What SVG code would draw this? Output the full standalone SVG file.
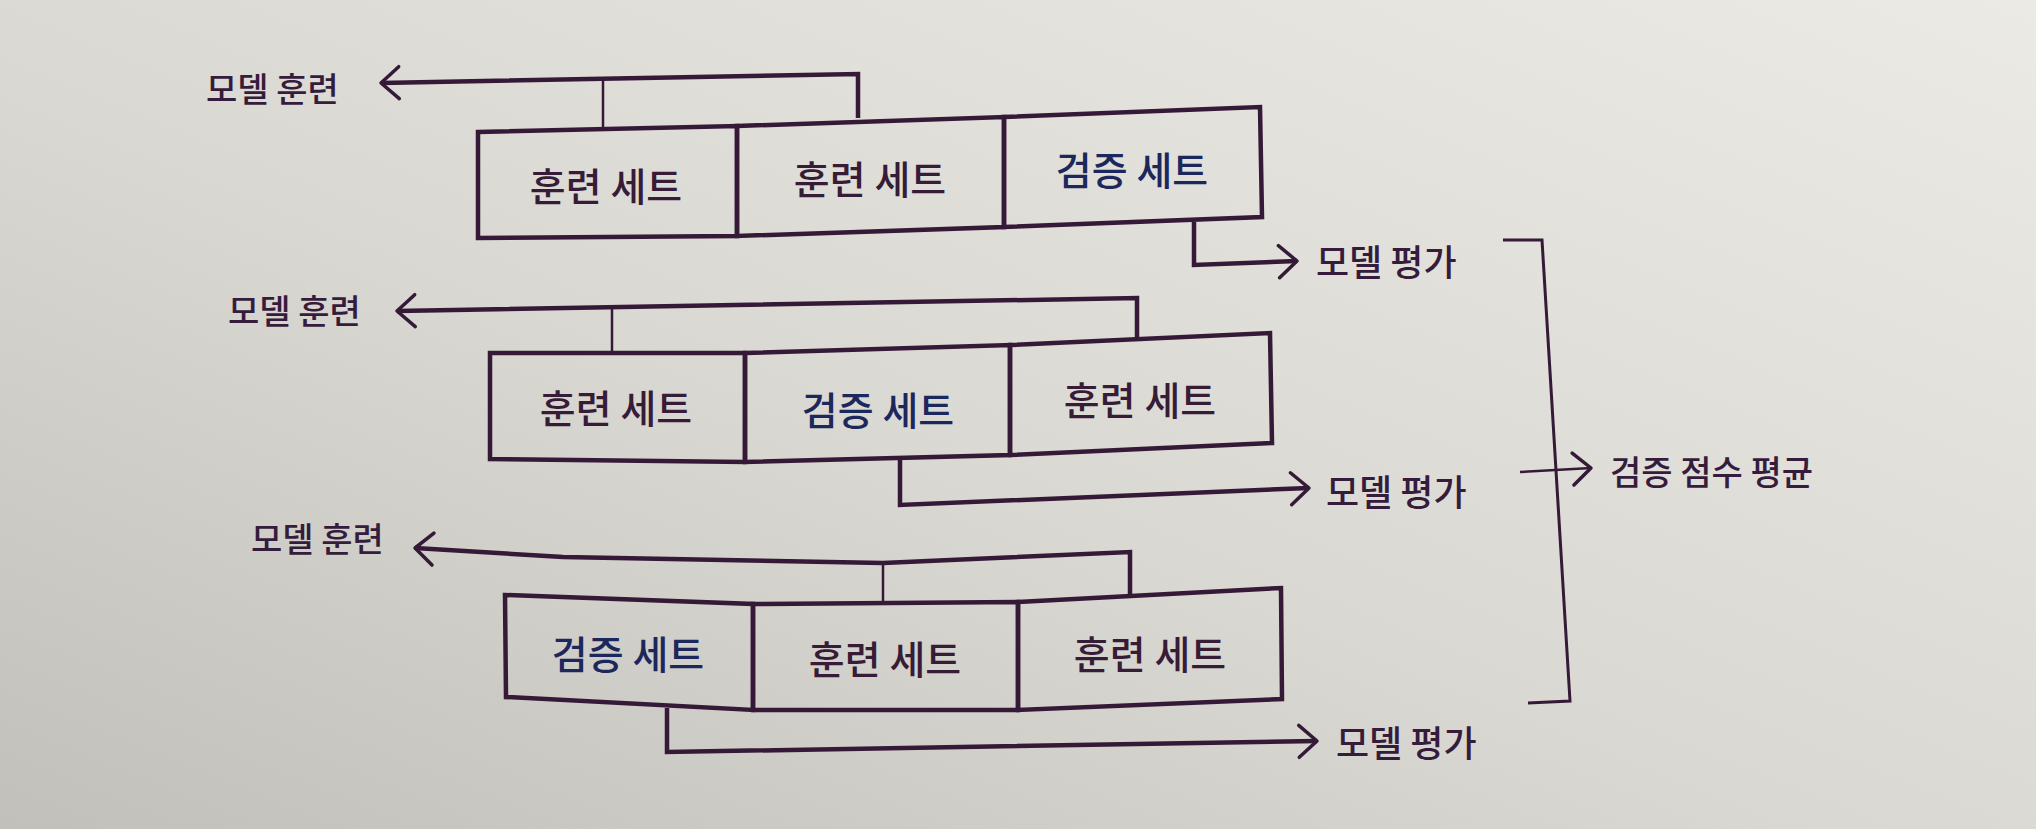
<svg xmlns="http://www.w3.org/2000/svg" width="2036" height="829" viewBox="0 0 2036 829">
<defs>
<linearGradient id="bg" x1="0" y1="1" x2="1" y2="0">
<stop offset="0" stop-color="#c2c0ba"/>
<stop offset="0.45" stop-color="#dad8d2"/>
<stop offset="1" stop-color="#ebeae5"/>
</linearGradient>
<marker id="chev" viewBox="-22 -20 26 40" refX="0" refY="0" markerWidth="26" markerHeight="40" markerUnits="userSpaceOnUse" orient="auto" overflow="visible">
<path d="M-18,-16 L0,0 L-18,16" fill="none" stroke="#351a38" stroke-width="3.5" stroke-linecap="round" stroke-linejoin="round"/>
</marker>
<style>
.cell{fill:none;stroke:#351a38;stroke-width:4.5;stroke-linejoin:miter}
.main{fill:none;stroke:#351a38;stroke-width:4.5;stroke-linejoin:miter;marker-end:url(#chev)}
.tick{fill:none;stroke:#351a38;stroke-width:2.5}
.brk{fill:none;stroke:#351a38;stroke-width:3}
.arr{fill:none;stroke:#351a38;stroke-width:2.5;marker-end:url(#chev)}
text{font-family:"Noto Sans CJK KR","Noto Sans",sans-serif;dominant-baseline:central;font-weight:500}
.tr{font-size:39px;fill:#361c36;text-anchor:middle}
.va{font-size:39px;fill:#1c285c;text-anchor:middle}
.lb{font-size:34px;fill:#361c3c}
.ev{font-size:36px;fill:#361c3c}
.rs{font-size:34px;fill:#361c3c}
</style>
</defs>
<rect x="0" y="0" width="2036" height="829" fill="url(#bg)"/>

<g id="connectors">
<polyline class="main" points="858,118 858,74 381,83"/>
<line class="tick" x1="603" y1="80" x2="603" y2="128"/>
<polyline class="main" points="1194,222 1194,265 1297,261"/>
<polyline class="main" points="1137,338 1137,298 397,311"/>
<line class="tick" x1="612" y1="309" x2="612" y2="353"/>
<polyline class="main" points="900,460 900,505 1309,488"/>
<polyline class="main" points="1130,595 1130,552 883,563 563,557 415,548"/>
<line class="tick" x1="883" y1="563" x2="883" y2="603"/>
<polyline class="main" points="667,708 667,752 1317,741"/>
<polyline class="brk" points="1503,240 1542,240 1570,701 1528,703"/>
<polyline class="arr" points="1520,472 1591,468"/>
</g>

<g id="row1">
<g id="r1c1"><polygon class="cell" points="478,132 737,126 737,236 478,238"/><text class="tr" x="606" y="184">훈련 세트</text></g>
<g id="r1c2"><polygon class="cell" points="737,126 1004,117 1004,227 737,236"/><text class="tr" x="870" y="177">훈련 세트</text></g>
<g id="r1c3"><polygon class="cell" points="1004,117 1260,107 1262,217 1004,227"/><text class="va" x="1132" y="168">검증 세트</text></g>
</g>
<g id="r1train"><text class="lb" x="206" y="87">모델 훈련</text></g>
<g id="r1eval"><text class="ev" x="1316" y="260">모델 평가</text></g>

<g id="row2">
<g id="r2c1"><polygon class="cell" points="490,353 745,353 745,462 490,459"/><text class="tr" x="616" y="406">훈련 세트</text></g>
<g id="r2c2"><polygon class="cell" points="745,353 1010,345 1010,455 745,462"/><text class="va" x="878" y="408">검증 세트</text></g>
<g id="r2c3"><polygon class="cell" points="1010,345 1270,333 1272,443 1010,455"/><text class="tr" x="1140" y="398">훈련 세트</text></g>
</g>
<g id="r2train"><text class="lb" x="228" y="309">모델 훈련</text></g>
<g id="r2eval"><text class="ev" x="1326" y="490">모델 평가</text></g>

<g id="row3">
<g id="r3c1"><polygon class="cell" points="505,595 753,604 753,710 506,697"/><text class="va" x="628" y="652">검증 세트</text></g>
<g id="r3c2"><polygon class="cell" points="753,604 1018,602 1018,710 753,710"/><text class="tr" x="885" y="657">훈련 세트</text></g>
<g id="r3c3"><polygon class="cell" points="1018,602 1281,588 1282,699 1018,710"/><text class="tr" x="1150" y="652">훈련 세트</text></g>
</g>
<g id="r3train"><text class="lb" x="251" y="537">모델 훈련</text></g>
<g id="r3eval"><text class="ev" x="1336" y="741">모델 평가</text></g>

<g id="result"><text class="rs" x="1610" y="470">검증 점수 평균</text></g>
</svg>
